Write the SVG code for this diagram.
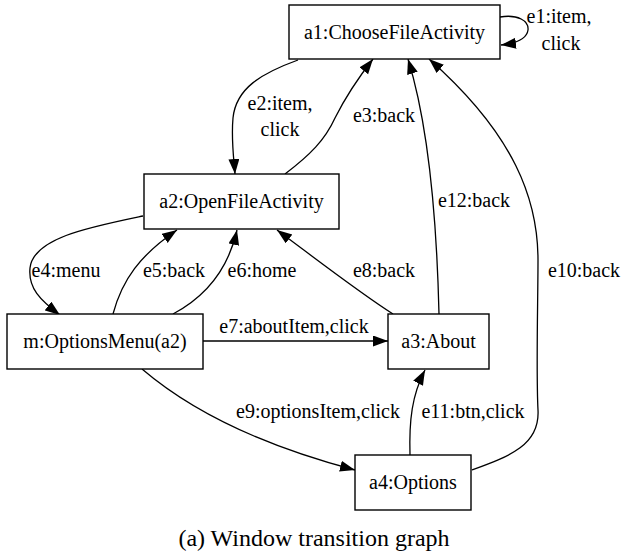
<svg xmlns="http://www.w3.org/2000/svg" width="624" height="556" viewBox="0 0 624 556">
<style>
.box{fill:#fff;stroke:#000;stroke-width:1.4}
.t{font-family:"Liberation Serif","Times New Roman",serif;font-size:20px;fill:#000;text-anchor:middle}
.cap{font-family:"Liberation Serif","Times New Roman",serif;font-size:24px;fill:#000;text-anchor:middle}
.e{fill:none;stroke:#000;stroke-width:1.3;marker-end:url(#ah)}
</style>
<defs>
<marker id="ah" markerUnits="userSpaceOnUse" markerWidth="16" markerHeight="12" refX="15" refY="5.5" orient="auto">
<path d="M0,0 L15,5.5 L0,11 z" fill="#000"/>
</marker>
</defs>
<rect width="624" height="556" fill="#fff"/>
<g id="edges">
<path class="e" d="M500,17 C518,14 529,21 528,30 C527,38 518,43 501,45"/>
<path class="e" d="M298,60 C262,73 236,88 233,118 C231,140 234,160 235,174"/>
<path class="e" d="M285,174 C310,155 325,140 335,118 C345,98 355,82 373,59"/>
<path class="e" d="M439,314 C437,230 430,130 408,59"/>
<path class="e" d="M472,470 C510,456 540,445 538,410 C536,370 538,300 538,260 C538,200 515,135 429,59"/>
<path class="e" d="M143,216 C90,227 33,238 30,268 C28,288 40,300 60,315"/>
<path class="e" d="M113,314 C122,280 140,255 177,230"/>
<path class="e" d="M173,314 C205,297 228,270 237,230"/>
<path class="e" d="M393,314 C360,293 320,262 277,230"/>
<path class="e" d="M203,341 L388,341"/>
<path class="e" d="M142,369 C190,410 260,445 355,470"/>
<path class="e" d="M410,455 C409,420 412,395 425,370"/>
</g>
<g id="edge-labels">
<text class="t" x="559" y="23">e1:item,</text>
<text class="t" x="561" y="50">click</text>
<text class="t" x="280" y="110">e2:item,</text>
<text class="t" x="280" y="136">click</text>
<text class="t" x="384" y="122">e3:back</text>
<text class="t" x="474" y="207">e12:back</text>
<text class="t" x="584" y="277">e10:back</text>
<text class="t" x="66" y="277">e4:menu</text>
<text class="t" x="174" y="277">e5:back</text>
<text class="t" x="262" y="277">e6:home</text>
<text class="t" x="384" y="277">e8:back</text>
<text class="t" x="294" y="333">e7:aboutItem,click</text>
<text class="t" x="318" y="418">e9:optionsItem,click</text>
<text class="t" x="473" y="418">e11:btn,click</text>
</g>
<g id="a1"><rect class="box" x="289" y="5" width="211" height="54"/><text class="t" x="394.5" y="39">a1:ChooseFileActivity</text></g>
<g id="a2"><rect class="box" x="144" y="174" width="195" height="55"/><text class="t" x="241.5" y="208">a2:OpenFileActivity</text></g>
<g id="m"><rect class="box" x="7" y="314" width="196" height="55"/><text class="t" x="105" y="348">m:OptionsMenu(a2)</text></g>
<g id="a3"><rect class="box" x="388" y="314" width="101" height="55"/><text class="t" x="438.5" y="348">a3:About</text></g>
<g id="a4"><rect class="box" x="355" y="455" width="116" height="55"/><text class="t" x="413" y="489">a4:Options</text></g>
<text class="cap" x="314" y="546">(a) Window transition graph</text>
</svg>
